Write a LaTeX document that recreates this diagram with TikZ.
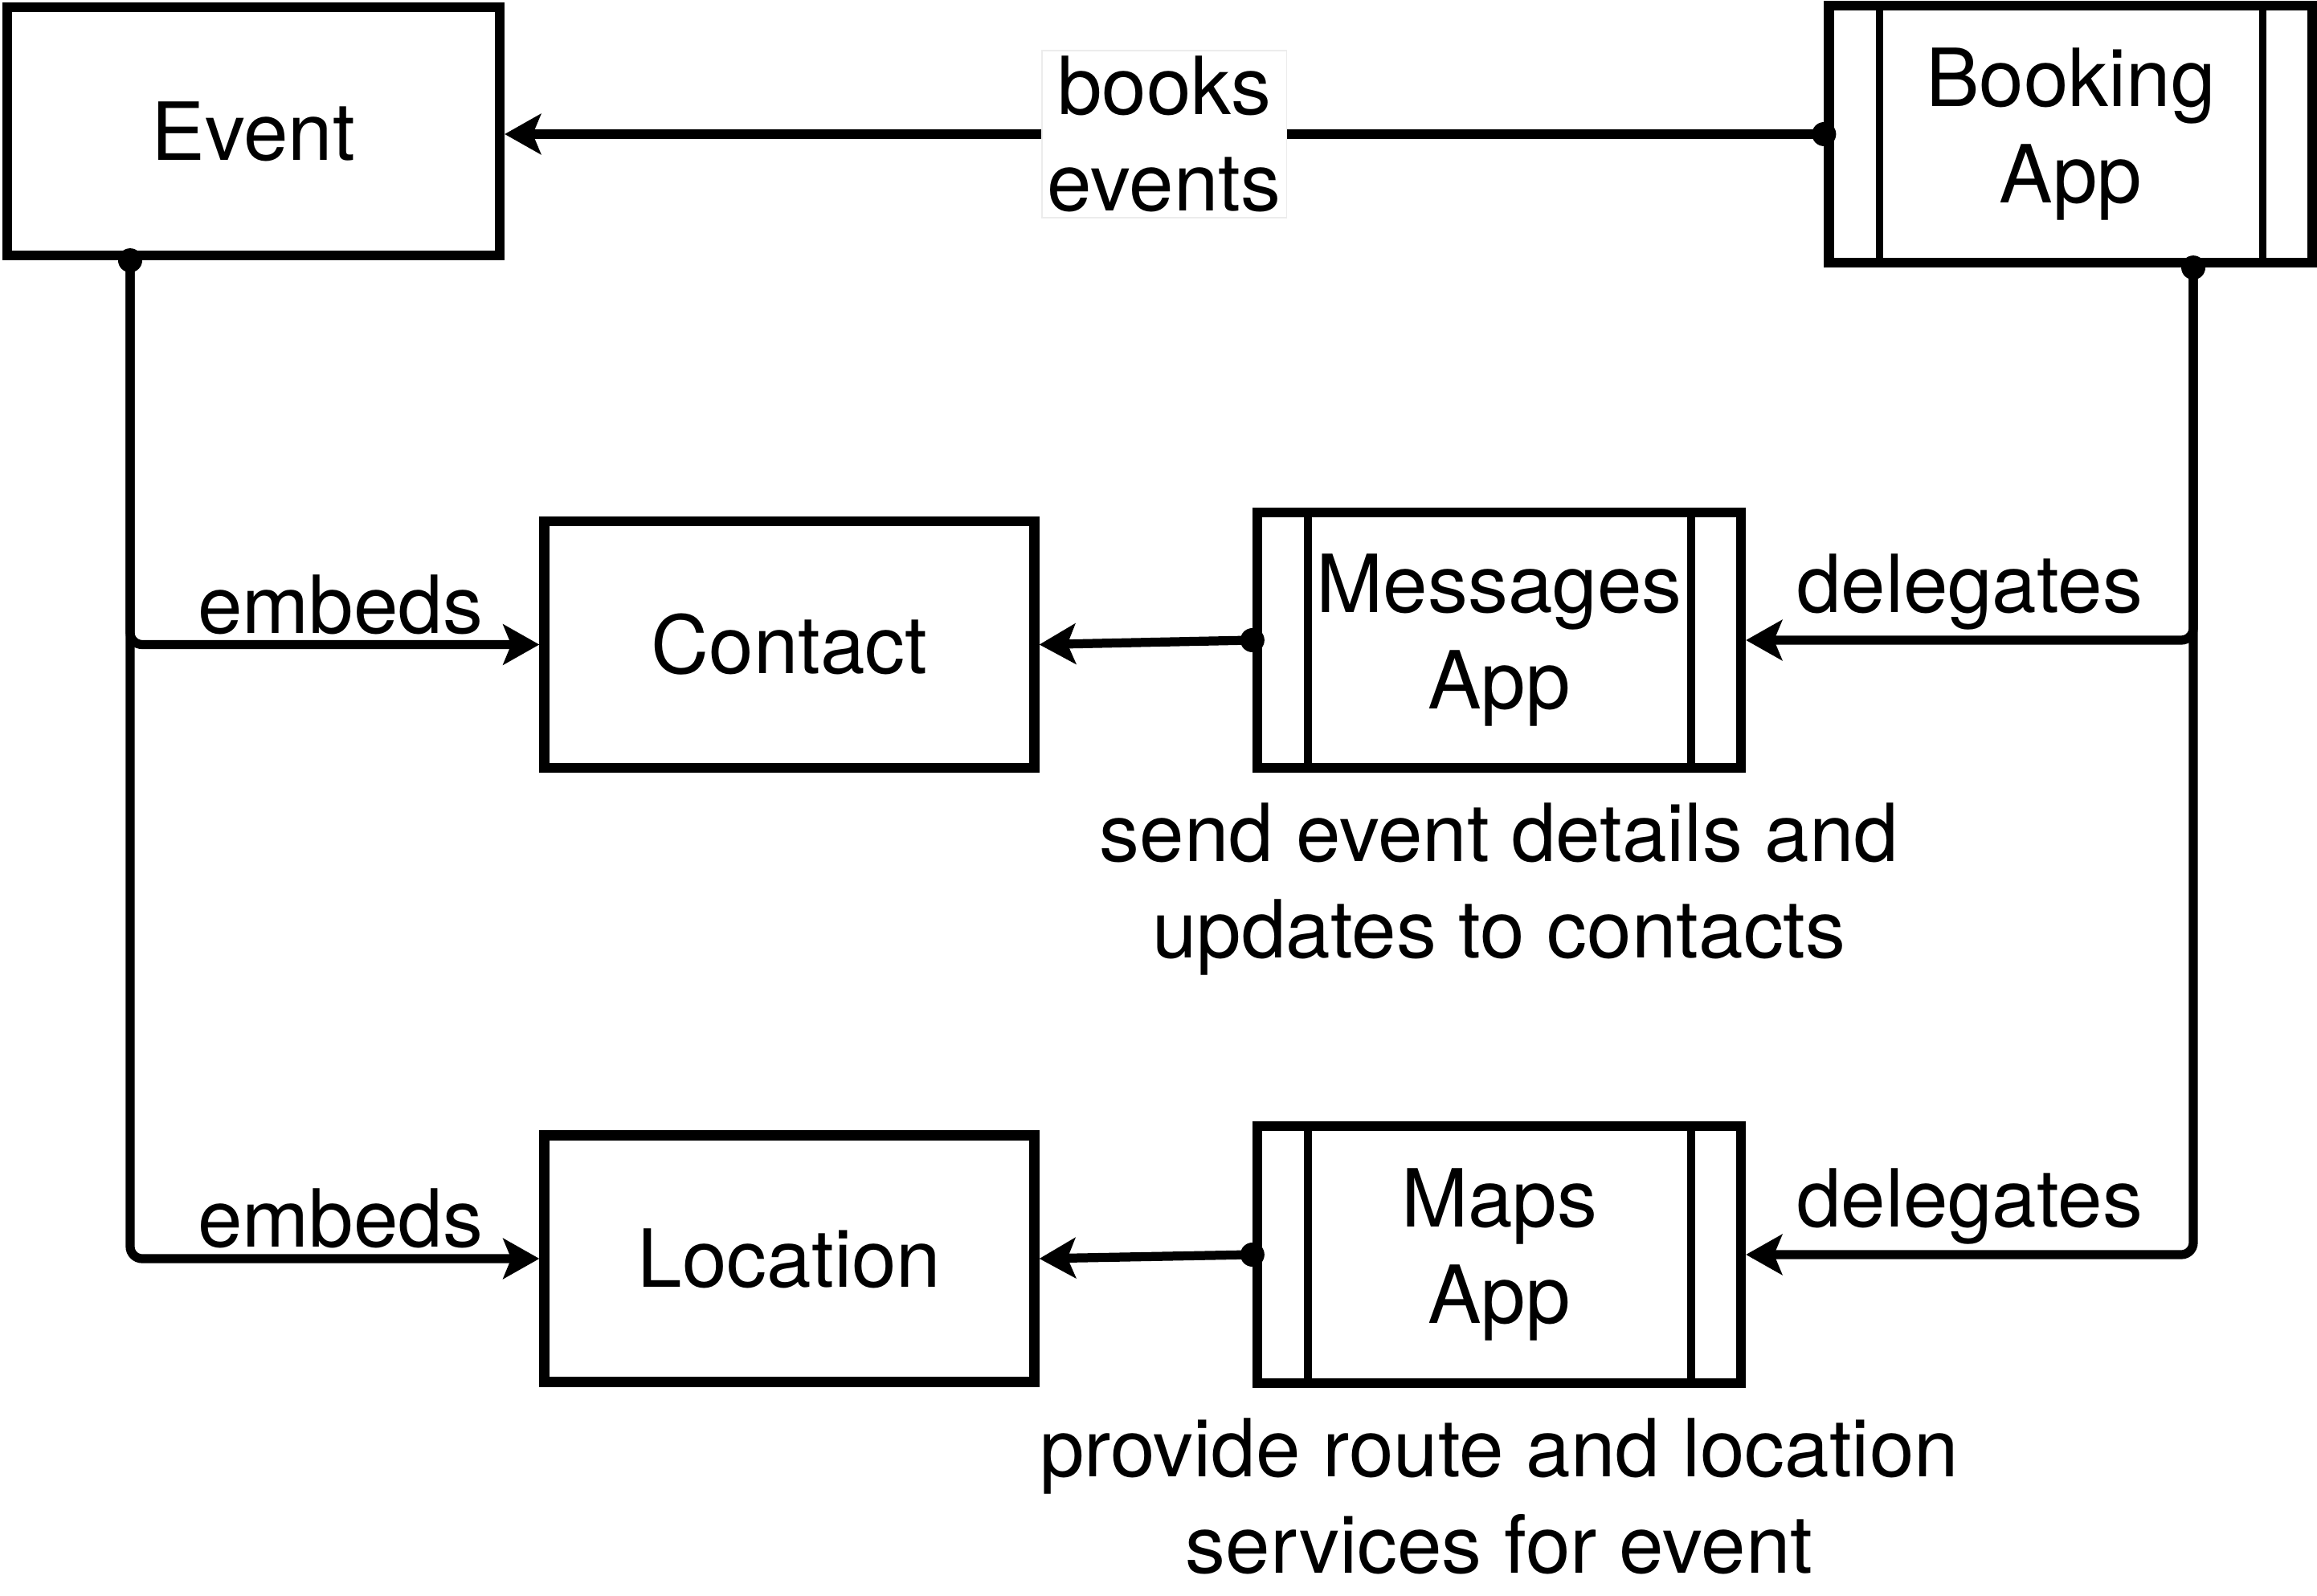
\documentclass[tikz,border=0pt]{standalone}
\usepackage{fontspec}
\setmainfont{TeX Gyre Heros}
\usetikzlibrary{positioning,arrows.meta}

\begin{document}
\begin{tikzpicture}[
        every node/.style={font=\fontsize{28.4pt}{34pt}\selectfont},
        entity/.style={draw, line width=3.5pt, align=center, minimum width=6.1cm, minimum height=3.07cm},
        appbox/.style={entity, minimum width=6.02cm, minimum height=3.2cm,
                       path picture={\draw[line width=2.6pt]
                         ([xshift=0.63cm]path picture bounding box.north west) -- ([xshift=0.63cm]path picture bounding box.south west)
                         ([xshift=-0.62cm]path picture bounding box.north east) -- ([xshift=-0.62cm]path picture bounding box.south east);}},
        arrow/.style={-{Stealth[length=4.5mm, width=5mm, inset=1mm]}, line width=3.2pt},
        dot/.style={radius=0.15cm},
        lbl/.style={inner sep=2pt}
      ]
        \useasboundingbox (0,0) rectangle (28.84,-19.87);

        \node[entity, minimum width=6.13cm, minimum height=3.09cm] (event) at (3.155,-1.635) {Event};
        \node[appbox] (booking) at (25.775,-1.67) {Booking\\App};
        \node[entity] (contact)  at (9.825,-8.025) {Contact};
        \node[appbox, minimum height=3.18cm] (messages) at (18.66,-7.97) {Messages\\App};
        \node[entity] (location) at (9.825,-15.67) {Location};
        \node[appbox] (maps) at (18.66,-15.62) {Maps\\App};

        \node[lbl, align=center, below=0.3cm of messages] (msgnote) {send event details and\\updates to contacts};
        \node[lbl, align=center, below=0.3cm of maps] (mapsnote) {provide route and location\\services for event};

        \coordinate (bk) at ([xshift=1.525cm]booking.south);
        \coordinate (ev) at ([xshift=-1.535cm]event.south);

        % booking app
        \draw[arrow] (booking.west) -- (booking.west -| event.east)
          node[midway, fill=white, draw=gray!15, line width=0.5pt, align=center, inner sep=2pt] (books) {books\\events};
        \draw[arrow, rounded corners=0.15cm] (bk) |- (messages.east) node[lbl, pos=0.75, above] (del1) {delegates};
        \draw[arrow, rounded corners=0.15cm] (bk) |- (maps.east) node[lbl, pos=0.75, above] (del2) {delegates};

        % event
        \draw[arrow, rounded corners=0.15cm] (ev) |- (contact.west) node[lbl, pos=0.757, above] (emb1) {embeds};
        \draw[arrow, rounded corners=0.15cm] (ev) |- (location.west) node[lbl, pos=0.757, above] (emb2) {embeds};

        % apps
        \draw[arrow] (messages.west) -- (contact.east);
        \draw[arrow] (maps.west) -- (location.east);

        \fill[dot] (booking.west) circle;
        \fill[dot] (bk) circle;
        \fill[dot] (ev) circle;
        \fill[dot] (messages.west) circle;
        \fill[dot] (maps.west) circle;
      \end{tikzpicture}
\end{document}
